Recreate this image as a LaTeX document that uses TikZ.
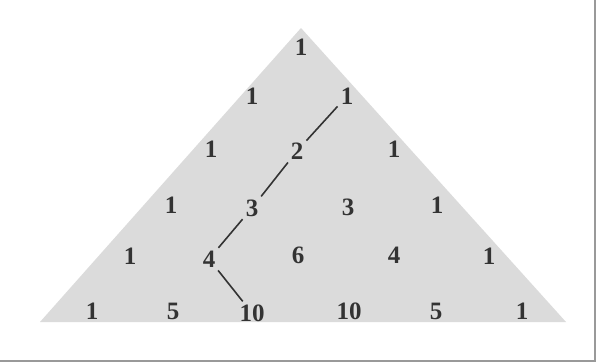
\documentclass[tikz,border=0pt]{standalone}
\usepackage{fontspec}
\setmainfont{Liberation Serif}
\begin{document}
\begin{tikzpicture}[x=1pt,y=-1pt,
  num/.style={font=\fontsize{25}{25}\selectfont\bfseries, inner sep=3pt, text=black!80},
  link/.style={line width=1.6pt, black!80}]
\useasboundingbox (0,0) rectangle (598,364);
\fill[white] (0,0) rectangle (598,364);
\draw[black!40, line width=1.2pt] (595,0) -- (595,361) -- (0,361);
\fill[black!14] (301,28) -- (566,322) -- (40,322) -- cycle;
% row 0
\node[num] (a0) at (301,47) {1};
% row 1
\node[num] (b0) at (252,96) {1};
\node[num] (b1) at (347,96) {1};
% row 2
\node[num] (c0) at (211,149) {1};
\node[num] (c1) at (297,151) {2};
\node[num] (c2) at (394,149) {1};
% row 3
\node[num] (d0) at (171,205) {1};
\node[num] (d1) at (252,208) {3};
\node[num] (d2) at (348,207) {3};
\node[num] (d3) at (437,205) {1};
% row 4
\node[num] (e0) at (130,256) {1};
\node[num] (e1) at (209,259) {4};
\node[num] (e2) at (298,255) {6};
\node[num] (e3) at (394,255) {4};
\node[num] (e4) at (489,256) {1};
% row 5
\node[num] (f0) at (92,311) {1};
\node[num] (f1) at (173,311) {5};
\node[num] (f2) at (252,313) {10};
\node[num] (f3) at (349,311) {10};
\node[num] (f4) at (436,311) {5};
\node[num] (f5) at (522,311) {1};
% path
\draw[link] (b1) -- (c1);
\draw[link] (c1) -- (d1);
\draw[link] (d1) -- (e1);
\draw[link] (e1) -- (f2);
\end{tikzpicture}
\end{document}
